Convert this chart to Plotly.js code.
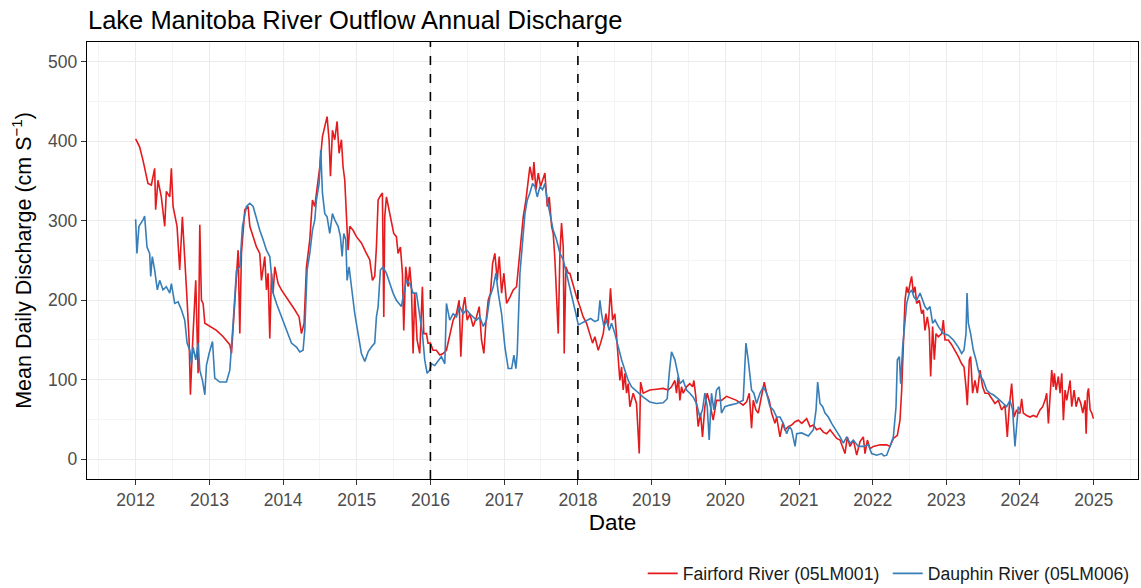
<!DOCTYPE html>
<html>
<head>
<meta charset="utf-8">
<script src="https://cdn.plot.ly/plotly-3.0.1.min.js"></script>
<style>html,body{margin:0;padding:0;background:#fff;}#chart{width:1141px;height:588px;}</style>
</head>
<body>
<div id="chart"></div>
<script>
// Fairford River (05LM001) — decimal year / mean daily discharge
const fairfordYear = [
2012.000,2012.054,2012.100,2012.167,2012.213,2012.258,2012.271,2012.303,2012.348,2012.394,2012.416,2012.462,2012.484,2012.507,2012.561,2012.597,2012.633,2012.665,2012.697,2012.724,2012.742,2012.769,2012.814,2012.846,2012.869,2012.891,2012.914,2012.937,2013.005,2013.095,2013.186,2013.276,2013.299,2013.344,2013.389,2013.412,2013.434,2013.480,2013.525,
2013.548,2013.593,2013.638,2013.683,2013.706,2013.751,2013.774,2013.796,2013.819,2013.842,2013.864,2013.887,2013.932,2013.977,2014.045,2014.113,2014.158,2014.217,2014.249,2014.285,2014.317,2014.362,2014.398,2014.430,2014.452,2014.498,2014.534,2014.566,2014.597,2014.624,2014.643,2014.670,2014.701,2014.733,2014.760,2014.792,2014.814,2014.837,2014.860,2014.882,2014.905,2014.950,2014.995,2015.063,2015.131,2015.176,2015.213,2015.244,2015.267,2015.290,2015.312,2015.348,2015.367,2015.380,2015.403,2015.439,2015.471,2015.502,2015.538,2015.561,2015.593,2015.620,2015.638,2015.665,2015.697,
2015.719,2015.742,2015.765,2015.787,2015.819,2015.855,2015.891,2015.910,2015.946,2015.968,2016.000,2016.036,2016.081,2016.127,2016.172,2016.217,2016.262,2016.308,2016.353,2016.389,2016.412,2016.443,2016.466,2016.498,2016.534,2016.579,2016.624,2016.661,2016.692,2016.724,2016.751,2016.783,2016.814,2016.842,2016.873,2016.905,2016.932,2016.964,2016.995,2017.032,2017.077,2017.122,2017.167,2017.213,2017.258,2017.294,2017.326,2017.348,2017.385,2017.403,2017.430,2017.462,2017.493,2017.520,2017.552,2017.584,2017.611,2017.643,2017.665,2017.688,2017.710,2017.733,2017.756,2017.778,2017.801,2017.814,2017.837,2017.869,
2017.891,2017.937,2017.982,2018.027,2018.072,2018.118,2018.163,2018.199,2018.231,2018.276,2018.308,2018.344,2018.380,2018.412,2018.443,2018.471,2018.502,2018.525,2018.548,2018.570,2018.593,2018.615,2018.638,2018.661,2018.683,2018.706,2018.751,2018.796,2018.833,2018.851,2018.887,2018.977,2019.068,2019.158,2019.226,2019.271,2019.317,2019.339,2019.362,2019.385,2019.407,2019.430,2019.475,2019.520,2019.557,2019.575,2019.602,2019.633,2019.665,2019.692,2019.724,2019.756,2019.792,2019.837,2019.882,2019.950,2020.018,
2020.154,2020.244,2020.290,2020.326,2020.357,2020.380,2020.416,2020.448,2020.480,2020.507,2020.529,2020.561,2020.597,2020.629,2020.674,2020.697,2020.742,2020.778,2020.810,2020.855,2020.900,2020.946,2020.991,2021.036,2021.104,2021.149,2021.195,2021.240,2021.285,2021.330,2021.376,2021.421,2021.466,2021.511,2021.557,2021.624,2021.656,2021.692,2021.738,2021.783,2021.828,2021.873,2021.896,2021.928,2021.964,2022.009,2022.100,2022.190,2022.235,
2022.281,2022.335,2022.371,2022.394,2022.416,2022.439,2022.462,2022.484,2022.507,2022.529,2022.552,2022.575,2022.597,2022.633,2022.665,2022.688,2022.710,2022.742,2022.769,2022.787,2022.814,2022.837,2022.860,2022.891,2022.937,2022.959,2022.982,2023.027,2023.072,2023.118,2023.163,2023.208,2023.240,2023.267,2023.285,2023.312,2023.330,2023.357,2023.389,2023.421,2023.457,2023.493,2023.525,2023.570,2023.615,2023.661,2023.706,2023.751,2023.796,2023.828,2023.855,2023.887,2023.919,2023.955,2023.977,
2024.000,2024.023,2024.045,2024.090,2024.136,2024.181,2024.226,2024.271,2024.308,2024.339,2024.362,2024.385,2024.407,2024.430,2024.452,2024.466,2024.489,2024.520,2024.543,2024.566,2024.588,2024.611,2024.633,2024.656,2024.679,2024.701,2024.733,2024.760,2024.792,2024.824,2024.851,2024.882,2024.896,2024.914,2024.928,2024.950,2024.973,2024.995
];
const fairfordFlow = [
403,393,376,347,345,366,314,351,330,293,337,330,366,318,293,238,305,259,200,150,81,141,225,108,295,200,196,171,167,162,154,144,133,204,263,158,259,314,318,
293,280,267,259,225,255,213,234,152,234,209,242,221,213,204,194,188,179,158,171,242,276,326,318,335,368,406,419,431,402,356,414,402,425,385,402,368,351,293,263,293,288,280,272,259,251,225,230,267,326,330,335,179,305,330,314,297,284,280,259,267,234,162,242,217,
242,217,133,209,150,133,217,158,158,146,146,137,137,131,133,137,154,175,183,200,129,192,204,175,183,167,179,192,150,133,171,200,209,246,259,225,255,209,234,196,204,213,217,263,305,326,356,368,351,374,339,360,343,351,360,318,330,293,284,251,209,158,259,297,267,133,242,234,
234,217,204,192,179,171,158,146,154,137,146,158,183,167,215,175,183,158,125,99,116,87,108,83,95,66,83,70,7,97,83,87,88,89,87,91,99,83,104,74,91,83,91,95,91,99,78,41,58,28,66,83,70,49,74,74,79,
74,68,72,83,39,74,62,58,74,83,97,83,74,58,45,53,28,45,37,41,43,47,49,45,51,41,43,37,39,34,32,37,32,26,24,7,28,16,24,5,22,28,7,24,13,16,18,18,16,
26,30,49,87,150,200,217,209,221,230,209,217,196,200,183,188,162,179,162,104,167,125,158,154,158,175,150,150,144,137,129,120,116,91,68,125,129,83,99,83,112,91,83,83,76,70,74,62,68,28,66,95,53,62,58,
58,76,58,55,53,55,53,62,66,74,83,45,87,112,91,108,87,104,83,108,49,87,74,87,99,66,87,66,78,70,58,74,32,83,89,62,58,51
];

// Dauphin River (05LM006) — decimal year / mean daily discharge
const dauphinYear = [
2012.000,2012.018,2012.045,2012.100,2012.122,2012.154,2012.190,2012.204,2012.226,2012.258,2012.294,2012.326,2012.371,2012.416,2012.462,2012.484,2012.529,2012.575,2012.620,2012.665,2012.697,2012.733,2012.756,2012.778,2012.814,2012.846,2012.869,2012.905,2012.937,2012.959,2012.995,2013.041,2013.072,2013.140,2013.231,2013.276,2013.321,2013.367,2013.412,2013.448,2013.502,
2013.548,2013.593,2013.638,2013.683,2013.729,2013.774,2013.819,2013.842,2013.864,2013.910,2013.977,2014.045,2014.113,2014.181,2014.226,2014.271,2014.294,2014.326,2014.362,2014.398,2014.430,2014.452,2014.489,2014.511,2014.534,2014.566,2014.597,2014.633,2014.670,2014.701,2014.747,2014.778,2014.801,2014.824,2014.851,2014.869,2014.896,2014.928,2014.973,2015.018,2015.063,2015.109,2015.154,2015.199,2015.244,2015.267,2015.290,2015.321,2015.357,2015.403,2015.448,2015.493,2015.538,2015.606,2015.638,2015.674,
2015.719,2015.765,2015.810,2015.855,2015.891,2015.923,2015.955,2015.991,2016.014,2016.059,2016.104,2016.149,2016.195,2016.217,2016.262,2016.308,2016.353,2016.398,2016.443,2016.489,2016.534,2016.579,2016.624,2016.670,2016.715,2016.760,2016.805,2016.851,2016.887,2016.919,2016.964,2017.009,2017.054,2017.100,2017.131,2017.158,2017.176,2017.213,2017.249,2017.281,2017.312,2017.348,2017.385,2017.416,2017.448,2017.484,2017.520,2017.552,2017.584,2017.620,2017.665,2017.710,2017.756,2017.801,2017.846,
2017.891,2017.937,2017.973,2018.005,2018.050,2018.118,2018.172,2018.231,2018.276,2018.299,2018.321,2018.353,2018.389,2018.425,2018.457,2018.502,2018.548,2018.593,2018.638,2018.683,2018.729,2018.774,2018.819,2018.887,2018.977,2019.068,2019.158,2019.213,2019.240,2019.271,2019.317,2019.348,2019.385,2019.430,2019.475,2019.520,2019.566,2019.611,2019.656,2019.692,2019.724,2019.756,2019.783,2019.814,2019.846,2019.882,2019.919,2019.950,2019.995,
2020.063,2020.154,2020.244,2020.281,2020.312,2020.335,2020.357,2020.389,2020.425,2020.471,2020.516,2020.561,2020.606,2020.652,2020.697,2020.742,2020.787,2020.833,2020.869,2020.900,2020.946,2020.968,2021.036,2021.127,2021.195,2021.231,2021.253,2021.285,2021.321,2021.353,2021.398,2021.443,2021.502,2021.557,2021.602,2021.647,2021.692,2021.738,2021.805,2021.873,2021.941,2021.986,2022.054,2022.122,2022.154,2022.190,2022.235,
2022.281,2022.317,2022.335,2022.362,2022.380,2022.407,2022.439,2022.462,2022.498,2022.529,2022.561,2022.597,2022.643,2022.679,2022.710,2022.742,2022.778,2022.814,2022.846,2022.891,2022.959,2023.027,2023.095,2023.163,2023.208,2023.240,2023.267,2023.281,2023.299,2023.330,2023.367,2023.403,2023.434,2023.466,2023.502,2023.548,2023.593,2023.638,2023.683,2023.729,2023.774,2023.819,2023.864,2023.900,2023.932,2023.955,2023.977,2024.000
];
const dauphinFlow = [
302,259,293,301,306,267,259,230,255,238,213,225,213,217,209,221,196,198,188,175,146,137,120,141,125,146,112,99,81,118,133,148,102,97,97,112,171,238,242,293,318,
322,318,301,288,276,263,255,234,209,196,179,162,146,141,135,137,162,238,259,288,301,326,347,389,335,309,305,284,309,301,293,280,255,284,276,225,242,217,183,158,133,123,135,141,146,179,192,238,242,234,221,209,200,192,209,225,
221,209,209,183,158,125,108,112,120,118,123,129,120,196,175,183,179,192,183,188,183,179,175,179,167,175,204,217,234,209,183,141,114,114,131,114,133,234,276,309,326,335,347,343,330,343,339,347,326,309,288,276,259,251,234,
217,200,183,169,171,175,177,173,175,200,183,167,175,162,171,158,141,125,112,99,91,87,83,78,72,70,71,76,108,135,125,112,95,99,87,83,78,70,53,62,83,66,24,83,62,87,91,58,66,
68,70,74,146,125,108,87,83,70,83,91,83,66,62,53,53,45,32,41,37,16,32,33,29,37,62,97,70,66,58,53,45,37,28,20,28,20,24,16,16,18,7,5,7,4,5,16,
28,66,125,129,95,141,175,196,209,213,204,200,209,200,192,188,192,171,175,167,158,156,150,141,133,137,158,209,171,158,137,125,112,104,99,87,83,81,78,74,70,66,74,62,16,49,66,62
];

const seriesNames = ["Fairford River (05LM001)", "Dauphin River (05LM006)"];
const seriesColors = ["#E41A1C", "#377EB8"];
const referenceDates = ["2016-01-01", "2018-01-01"];
const yTicks = [0, 100, 200, 300, 400, 500];

function yearToDate(t) {
  const y = Math.floor(t);
  const start = Date.UTC(y, 0, 1), end = Date.UTC(y + 1, 0, 1);
  return new Date(start + (t - y) * (end - start)).toISOString().slice(0, 19);
}

const traces = [
  {x: fairfordYear.map(yearToDate), y: fairfordFlow, name: seriesNames[0]},
  {x: dauphinYear.map(yearToDate), y: dauphinFlow, name: seriesNames[1]}
].map((t, i) => Object.assign(t, {
  type: "scatter", mode: "lines",
  line: {color: seriesColors[i], width: 1.6},
  hoverinfo: "x+y+name"
}));

const gridCol = "#EBEBEB";
const layout = {
  width: 1141, height: 588,
  paper_bgcolor: "#fff", plot_bgcolor: "#fff",
  font: {family: "Liberation Sans, Arial, sans-serif", color: "#1A1A1A"},
  margin: {l: 87, r: 3, t: 42, b: 109, autoexpand: false},
  title: {
    text: "Lake Manitoba River Outflow Annual Discharge",
    font: {size: 25.5, color: "#000"},
    x: 88 / 1141, xanchor: "left", xref: "container",
    y: 1 - 20 / 588, yanchor: "middle", yref: "container"
  },
  xaxis: {
    type: "date",
    range: ["2011-05-05", "2025-08-08"],
    dtick: "M12", tick0: "2012-01-01", tickformat: "%Y",
    showgrid: true, gridcolor: gridCol, gridwidth: 1,
    minor: {dtick: "M6", tick0: "2012-01-01", showgrid: true, gridcolor: "#F4F4F4", gridwidth: 1},
    ticks: "outside", ticklen: 5, tickcolor: "#333", tickwidth: 1,
    tickfont: {size: 17.5, color: "#4D4D4D"},
    showline: true, linecolor: "#000", linewidth: 1.3, mirror: true,
    zeroline: false,
    title: {text: "Date", font: {size: 22.5, color: "#000"}, standoff: 1},
    automargin: false
  },
  yaxis: {
    range: [-25, 525],
    tickvals: yTicks,
    showgrid: true, gridcolor: gridCol, gridwidth: 1,
    minor: {dtick: 50, tick0: 0, showgrid: true, gridcolor: "#F4F4F4", gridwidth: 1},
    ticks: "outside", ticklen: 5, tickcolor: "#333", tickwidth: 1,
    tickfont: {size: 17.5, color: "#4D4D4D"},
    showline: true, linecolor: "#000", linewidth: 1.3, mirror: true,
    zeroline: false,
    title: {text: "Mean Daily Discharge (cm S<sup>−1</sup>)", font: {size: 21.5, color: "#000"}, standoff: 10},
    automargin: false
  },
  shapes: referenceDates.map(d => ({
    type: "line", xref: "x", yref: "paper", x0: d, x1: d, y0: 0, y1: 1,
    line: {color: "#000", width: 1.6, dash: "dash"}
  })),
  legend: {
    orientation: "h", x: 0.995, xanchor: "right", y: -0.175, yanchor: "top",
    font: {size: 17.6, color: "#1A1A1A"}, itemwidth: 30,
    entrywidth: 200, entrywidthmode: "pixels",
    bgcolor: "rgba(0,0,0,0)"
  },
  showlegend: true
};

Plotly.newPlot("chart", traces, layout, {displayModeBar: false, staticPlot: true});
</script>
</body>
</html>
